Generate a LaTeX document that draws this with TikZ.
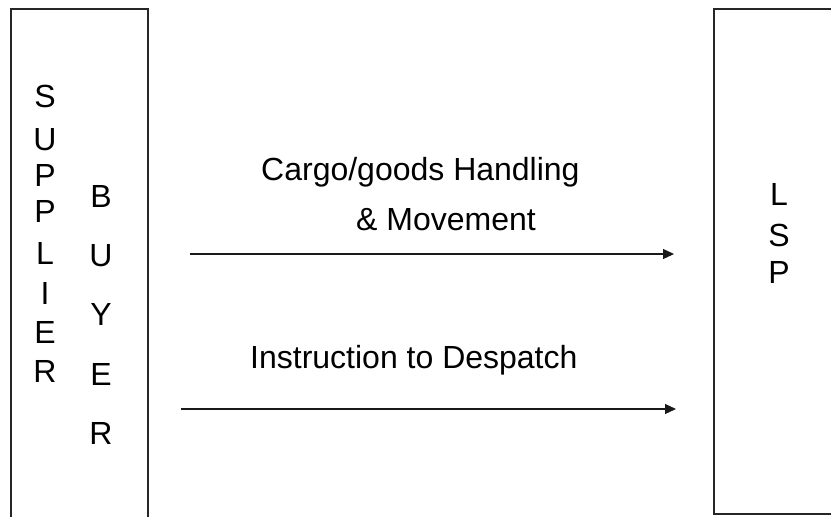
\documentclass[tikz,border=0pt]{standalone}
\usepackage{fontspec}
\setmainfont{Liberation Sans}
\usetikzlibrary{arrows.meta}
\tikzset{
  box/.style={draw=black!85, line width=1.2pt},
  label/.style={inner sep=0pt, font=\fontsize{32}{36}\selectfont},
  flow/.style={draw=black!90, line width=1.2pt, -{Triangle[length=11pt,width=10pt]}}
}
\begin{document}
\begin{tikzpicture}[x=1pt,y=-1pt]
\useasboundingbox (0,0) rectangle (831,517);
\fill[white] (0,0) rectangle (831,517);
% boxes
\draw[box] (11,9) rectangle (148,540);
\draw[box] (714,9) rectangle (850,514);
% vertical labels
\node[label, anchor=north, align=center] (supplier) at (45,85)
  {S\\[7pt]U\\P\\P\\[6pt]L\\[4pt]I\\[3pt]E\\[3pt]R};
\node[label, anchor=north, align=center, font=\fontsize{32}{59.3}\selectfont] (buyer) at (101,185)
  {B\\U\\Y\\E\\R};
\node[label, anchor=north, align=center, font=\fontsize{32}{37}\selectfont] (lsp) at (779,183)
  {L\\[4pt]S\\P};
% flow labels
\node[label, anchor=base west, align=left, font=\fontsize{32}{50}\selectfont] (cargo) at (261,230)
  {Cargo/goods Handling\\\hspace*{95pt}\& Movement};
\node[label, anchor=base west] (instr) at (250,368) {Instruction to Despatch};
% arrows
\coordinate (a1s) at (190,254);
\coordinate (a1e) at (674,254);
\coordinate (a2s) at (181,409);
\coordinate (a2e) at (676,409);
\draw[flow] (a1s) -- (a1e);
\draw[flow] (a2s) -- (a2e);
\end{tikzpicture}
\end{document}
